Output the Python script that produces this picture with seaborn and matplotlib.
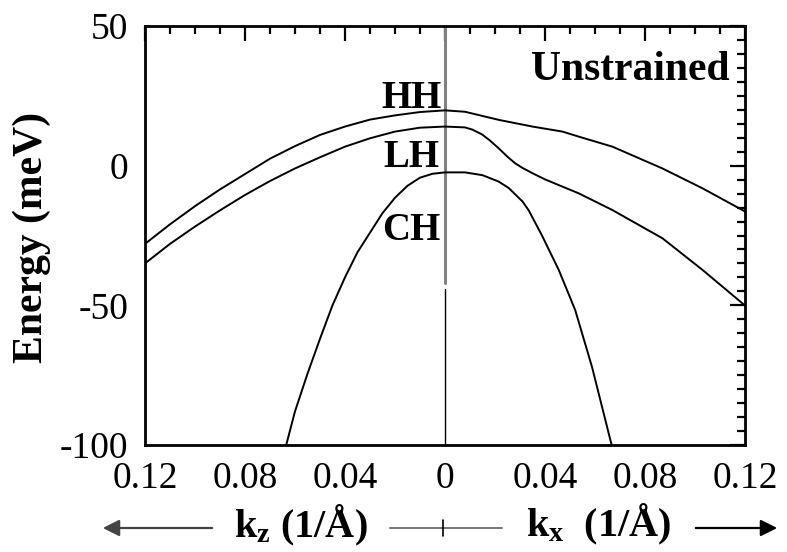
import matplotlib
matplotlib.use('Agg')
import matplotlib.pyplot as plt
import seaborn as sns
import numpy as np
import pandas as pd
from matplotlib.ticker import MultipleLocator, FuncFormatter
from matplotlib.lines import Line2D

# Valence band dispersion, unstrained case.
# Negative k -> k_z direction (left half), positive k -> k_x direction (right half)
hh_k = [-0.12, -0.11, -0.10, -0.09, -0.08, -0.07, -0.06, -0.05, -0.04, -0.03, -0.02, -0.01, 0.0,
        0.008, 0.0215, 0.035, 0.047, 0.0535, 0.067, 0.087, 0.103, 0.119, 0.12]
hh_e = [-28.0, -21.0, -14.5, -8.5, -3.0, 2.5, 7.0, 11.0, 14.0, 16.5, 18.0, 19.2, 19.8,
        19.3, 16.4, 14.0, 12.2, 10.4, 6.8, -1.0, -8.1, -15.9, -16.4]

lh_k = [-0.12, -0.11, -0.10, -0.09, -0.08, -0.07, -0.06, -0.05, -0.04, -0.03, -0.02, -0.01, 0.0,
        0.008, 0.011, 0.0148, 0.018, 0.0215, 0.025, 0.028, 0.031, 0.035, 0.04, 0.047, 0.0535,
        0.067, 0.087, 0.103, 0.119, 0.12]
lh_e = [-35.0, -28.0, -21.8, -16.0, -10.5, -5.5, -1.0, 3.0, 6.8, 9.8, 12.2, 13.6, 14.0,
        13.7, 12.9, 11.2, 9.0, 6.2, 3.2, 0.9, -0.8, -2.7, -4.9, -7.5, -9.9,
        -15.9, -26.0, -37.3, -49.3, -50.0]

ch_k = [-0.0635, -0.06, -0.055, -0.05, -0.045, -0.04, -0.035, -0.03, -0.025, -0.02, -0.015, -0.01,
        -0.005, 0.0, 0.008, 0.015, 0.0215, 0.0255, 0.031, 0.0335, 0.0388, 0.0455, 0.0521, 0.0588,
        0.0661, 0.0667]
ch_e = [-100.0, -88.0, -74.5, -62.0, -50.0, -40.0, -31.0, -24.0, -17.0, -11.5, -7.2, -4.3,
        -2.9, -2.4, -2.4, -3.4, -5.7, -8.0, -12.8, -16.0, -25.0, -37.3, -51.7, -72.0,
        -98.0, -100.0]

band_labels = ['HH', 'LH', 'CH']
x_ticks = [-0.12, -0.08, -0.04, 0.0, 0.04, 0.08, 0.12]
y_ticks = [-100, -50, 0, 50]

df = pd.concat([
    pd.DataFrame({'k': hh_k, 'E': hh_e, 'band': 'HH'}),
    pd.DataFrame({'k': lh_k, 'E': lh_e, 'band': 'LH'}),
    pd.DataFrame({'k': ch_k, 'E': ch_e, 'band': 'CH'}),
])

sns.set_theme(style='white')
plt.rcParams['font.family'] = ['Liberation Serif', 'DejaVu Serif']
plt.rcParams['mathtext.fontset'] = 'custom'
plt.rcParams['mathtext.rm'] = 'Liberation Serif'
plt.rcParams['mathtext.bf'] = 'Liberation Serif:bold'
plt.rcParams['axes.unicode_minus'] = False
plt.rcParams['text.color'] = 'black'
plt.rcParams['axes.labelcolor'] = 'black'
plt.rcParams['xtick.color'] = 'black'
plt.rcParams['ytick.color'] = 'black'

fig = plt.figure(figsize=(7.87, 5.52), dpi=100)
ax = fig.add_axes([0.1842, 0.1938, 0.7624, 0.7591])

# centre line separating the two directions
ax.axvline(0, ymin=(-42 + 100) / 150, ymax=1, color='#808080', lw=2.2, zorder=1)
ax.axvline(0, ymin=0, ymax=(-44 + 100) / 150, color='black', lw=1.0, zorder=1)

for band in band_labels:
    sub = df[df['band'] == band]
    sns.lineplot(data=sub, x='k', y='E', ax=ax, color='black', lw=1.4,
                 estimator=None, sort=False, legend=False, zorder=3)

ax.set_xlim(-0.12, 0.12)
ax.set_ylim(-100, 50)
ax.set_xticks(x_ticks)
ax.set_yticks(y_ticks)
ax.xaxis.set_minor_locator(MultipleLocator(0.01))
ax.yaxis.set_minor_locator(MultipleLocator(5))
ax.xaxis.set_major_formatter(FuncFormatter(lambda v, p: '0' if abs(v) < 1e-9 else f'{abs(v):.2f}'))
ax.yaxis.set_major_formatter(FuncFormatter(lambda v, p: f'{v:.0f}'))
ax.tick_params(which='both', direction='in', top=True, right=True, width=1.6,
               colors='black', labelsize=27, pad=12)
ax.tick_params(which='major', length=11)
ax.tick_params(which='minor', length=6)
for s in ax.spines.values():
    s.set_linewidth(2)
    s.set_color('black')

ax.set_xlabel('')
ax.set_ylabel('Energy (meV)', fontsize=30, fontweight='bold', va='center', ha='center')
ax.yaxis.set_label_coords(-0.188, 0.495)

# band labels
ax.text(-0.0012, 20.7, 'HH', ha='right', va='baseline', fontsize=28, fontweight='bold')
ax.text(-0.0024, -0.5, 'LH', ha='right', va='baseline', fontsize=28, fontweight='bold')
ax.text(-0.0020, -26.6, 'CH', ha='right', va='baseline', fontsize=28, fontweight='bold')
ax.text(0.114, 30.7, 'Unstrained', ha='right', va='baseline', fontsize=30, fontweight='bold')

# direction arrows under the axis
W, H = 787.0, 552.0
ya = 1 - 528 / H
ax.annotate('', xy=(100 / W, ya), xytext=(215 / W, ya), xycoords='figure fraction',
            arrowprops=dict(arrowstyle='-|>', color='#444444', lw=1.6, mutation_scale=25))
ax.annotate('', xy=(780 / W, ya), xytext=(693 / W, ya), xycoords='figure fraction',
            arrowprops=dict(arrowstyle='-|>', color='black', lw=1.6, mutation_scale=25))
fig.add_artist(Line2D([390 / W, 502 / W], [ya, ya], color='#777777', lw=1.4,
                      transform=fig.transFigure))
fig.add_artist(Line2D([443 / W, 443 / W], [1 - 520 / H, 1 - 536 / H], color='black', lw=1.2,
                      transform=fig.transFigure))
fig.text(301 / W, 1 - 537 / H, r'$\mathbf{k_z}$ (1/Å)', ha='center', va='baseline',
         fontsize=29, fontweight='bold')
fig.text(599 / W, 1 - 536 / H, r'$\mathbf{k_x}$  (1/Å)', ha='center', va='baseline',
         fontsize=29, fontweight='bold')

fig.savefig('out.png', dpi=100)
